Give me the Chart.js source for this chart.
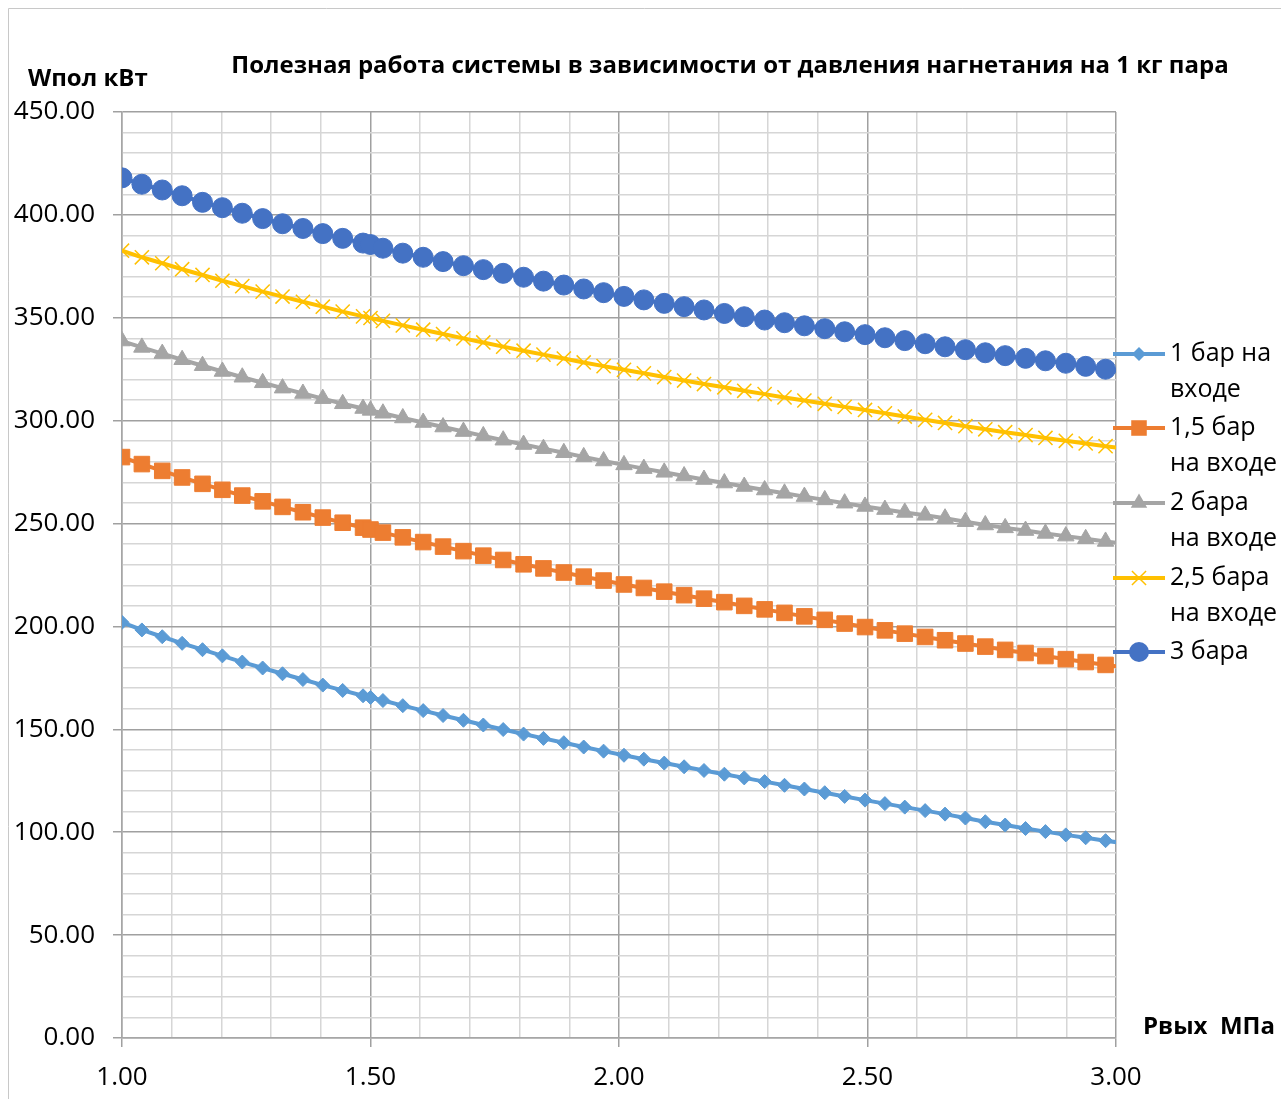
<!DOCTYPE html>
<html>
<head>
<meta charset="utf-8">
<script src="https://cdn.jsdelivr.net/npm/chart.js@4"></script>
<style>
  html, body { margin: 0; padding: 0; background: #fff; }
  #wrap { position: relative; width: 1281px; height: 1099px; }
</style>
</head>
<body>
<div id="wrap"><canvas id="c" width="1281" height="1099"></canvas></div>
<script>
const chartTitle = 'Полезная работа системы в зависимости от давления нагнетания на 1 кг пара';
const yAxisTitle = 'Wпол кВт';
const xAxisTitle = 'Рвых  МПа';

const xValues = [1.000, 1.040, 1.081, 1.121, 1.162, 1.202, 1.242, 1.283, 1.323, 1.364, 1.404, 1.444, 1.485,
  1.500,
  1.525, 1.565, 1.606, 1.646, 1.687, 1.727, 1.767, 1.808, 1.848, 1.889, 1.929, 1.969, 2.010, 2.050, 2.091,
  2.131, 2.171, 2.212, 2.252, 2.293, 2.333, 2.373, 2.414, 2.454, 2.495, 2.535, 2.575, 2.616, 2.656, 2.697,
  2.737, 2.777, 2.818, 2.858, 2.899, 2.939, 2.979, 3.020];

const seriesNames = [['1 бар на', 'входе'], ['1,5 бар', 'на входе'], ['2 бара', 'на входе'], ['2,5 бара', 'на входе'], ['3 бара']];

const bar1 = [202.0,198.3,195.0,191.8,188.7,185.7,182.7,179.8,177.0,174.2,171.5,168.9,166.3,165.5,164.0,161.5,159.1,156.7,154.4,152.1,149.9,147.7,145.6,143.5,141.4,139.4,137.4,135.5,133.6,131.8,130.0,128.2,126.4,124.6,122.8,121.0,119.2,117.4,115.6,113.9,112.2,110.5,108.8,106.9,105.1,103.5,101.8,100.3,98.7,97.3,95.9,94.5];
const bar15 = [282.3,278.9,275.6,272.4,269.3,266.4,263.6,260.8,258.1,255.5,252.9,250.4,248.0,247.1,245.6,243.3,241.0,238.8,236.6,234.4,232.3,230.2,228.2,226.2,224.2,222.3,220.4,218.7,216.9,215.2,213.5,211.8,210.0,208.3,206.6,204.9,203.2,201.4,199.7,198.1,196.5,194.9,193.3,191.7,190.2,188.6,187.1,185.6,184.1,182.7,181.3,180.0];
const bar2 = [338.7,335.6,332.6,329.6,326.7,323.9,321.1,318.4,315.8,313.2,310.7,308.2,305.9,305.0,303.6,301.3,299.1,296.9,294.7,292.6,290.5,288.4,286.4,284.4,282.4,280.4,278.5,276.7,274.9,273.1,271.4,269.7,268.0,266.3,264.7,263.1,261.5,259.9,258.3,256.8,255.4,254.0,252.6,250.9,249.3,247.9,246.6,245.2,243.9,242.6,241.3,240.0];
const bar25 = [382.6,379.4,376.5,373.6,370.8,368.0,365.4,362.7,360.3,357.8,355.4,353.0,350.7,349.9,348.5,346.3,344.2,342.1,340.0,338.0,336.0,334.0,332.1,330.2,328.3,326.5,324.7,323.0,321.2,319.5,317.8,316.2,314.5,312.9,311.3,309.8,308.2,306.7,305.2,303.6,302.0,300.4,298.9,297.3,295.8,294.4,293.0,291.6,290.2,288.9,287.6,286.3];
const bar3 = [418.0,414.9,412.1,409.3,406.1,403.5,400.8,398.2,395.7,393.4,390.9,388.6,386.3,385.6,383.8,381.4,379.4,377.3,375.3,373.4,371.6,369.7,367.8,365.9,364.0,362.2,360.4,358.7,357.0,355.4,353.8,352.1,350.5,348.9,347.6,346.1,344.7,343.2,341.8,340.3,338.9,337.4,335.9,334.5,333.0,331.6,330.3,329.1,327.9,326.4,325.0,323.8];

const seriesValues = [bar1, bar15, bar2, bar25, bar3];
const seriesColors = ['#5B9BD5', '#ED7D31', '#A5A5A5', '#FFC000', '#4472C4'];
const seriesMarkers = ['rectRot', 'rect', 'triangle', 'crossRot', 'circle'];
const markerRadius = [7, 11, 9.5, 10, 10];

const FONT = '"Open Sans", "Noto Sans", "Liberation Sans", sans-serif';

function toPoints(ys) { return xValues.map((x, i) => ({ x: x, y: ys[i] })); }

const datasets = seriesValues.map((ys, i) => ({
  label: seriesNames[i].join(' '),
  data: toPoints(ys),
  borderColor: seriesColors[i],
  backgroundColor: seriesColors[i],
  borderWidth: 4,
  pointStyle: seriesMarkers[i],
  pointRadius: markerRadius[i],
  pointHoverRadius: markerRadius[i],
  pointBackgroundColor: seriesColors[i],
  pointBorderColor: seriesColors[i],
  pointBorderWidth: seriesMarkers[i] === 'crossRot' ? 1.5 : 1,
  tension: 0,
  fill: false
}));

function drawMarker(ctx, style, r, x, y, color) {
  ctx.save();
  ctx.fillStyle = color; ctx.strokeStyle = color;
  ctx.beginPath();
  if (style === 'circle') {
    ctx.arc(x, y, r, 0, Math.PI * 2); ctx.fill();
  } else if (style === 'rect') {
    const s = Math.SQRT1_2 * r; ctx.rect(x - s, y - s, 2 * s, 2 * s); ctx.fill();
  } else if (style === 'rectRot') {
    ctx.moveTo(x - r, y); ctx.lineTo(x, y - r); ctx.lineTo(x + r, y); ctx.lineTo(x, y + r); ctx.closePath(); ctx.fill();
  } else if (style === 'triangle') {
    ctx.moveTo(x - Math.sin(Math.PI / 3) * r, y + r / 2);
    ctx.lineTo(x + Math.sin(Math.PI / 3) * r, y + r / 2);
    ctx.lineTo(x, y - r); ctx.closePath(); ctx.fill();
  } else if (style === 'crossRot') {
    const s = Math.SQRT1_2 * r; ctx.lineWidth = 1.5;
    ctx.moveTo(x - s, y - s); ctx.lineTo(x + s, y + s);
    ctx.moveTo(x + s, y - s); ctx.lineTo(x - s, y + s); ctx.stroke();
  }
  ctx.restore();
}

const decor = {
  id: 'decor',
  beforeDraw(chart) {
    const ctx = chart.ctx;
    ctx.save();
    ctx.fillStyle = '#fff';
    ctx.fillRect(0, 0, chart.width, chart.height);
    ctx.strokeStyle = '#c8c8c8'; ctx.lineWidth = 1;
    ctx.beginPath();
    ctx.moveTo(8.5, 1099); ctx.lineTo(8.5, 8.5); ctx.lineTo(1281, 8.5);
    ctx.stroke();
    ctx.restore();
  },
  afterDraw(chart) {
    const ctx = chart.ctx;
    ctx.save();
    ctx.fillStyle = '#000';
    ctx.textBaseline = 'middle';
    ctx.font = 'bold 24px ' + FONT;
    ctx.textAlign = 'center';
    ctx.fillText(chartTitle, 730, 66, 1000);
    ctx.textAlign = 'left';
    ctx.fillText(yAxisTitle, 28, 79);
    ctx.fillText(xAxisTitle, 1143, 1027);
    // legend
    const rows = [354, 428, 503, 578, 652];
    ctx.font = '25px ' + FONT;
    for (let i = 0; i < seriesNames.length; i++) {
      const y = rows[i];
      ctx.save();
      ctx.strokeStyle = seriesColors[i]; ctx.lineWidth = 4;
      ctx.beginPath(); ctx.moveTo(1113, y); ctx.lineTo(1165, y); ctx.stroke();
      ctx.restore();
      drawMarker(ctx, seriesMarkers[i], markerRadius[i], 1139, y, seriesColors[i]);
      ctx.fillStyle = '#000';
      seriesNames[i].forEach((t, k) => ctx.fillText(t, 1170, y + k * 36));
    }
    ctx.restore();
  }
};

const isMajorX = v => Math.abs(v * 2 - Math.round(v * 2)) < 1e-6;
const isMajorY = v => Math.abs(v / 50 - Math.round(v / 50)) < 1e-6;

new Chart(document.getElementById('c'), {
  type: 'line',
  data: { datasets },
  options: {
    responsive: false,
    animation: false,
    devicePixelRatio: 1,
    layout: { padding: { top: 112, right: 165, left: 0, bottom: 0 } },
    plugins: { legend: { display: false }, title: { display: false }, tooltip: { enabled: false } },
    scales: {
      x: {
        type: 'linear', min: 1, max: 3,
        afterFit(s) { s.height = 61; },
        border: { display: true, color: '#a6a6a6', width: 1.5 },
        grid: {
          color: c => isMajorX(c.tick.value) ? '#a0a0a0' : '#d6d6d6',
          lineWidth: 1.5,
          tickLength: 9,
          tickColor: c => isMajorX(c.tick.value) ? '#a0a0a0' : 'rgba(0,0,0,0)'
        },
        ticks: {
          stepSize: 0.1, autoSkip: false, maxRotation: 0, padding: 15,
          color: '#000', font: { size: 26, family: FONT },
          callback: v => isMajorX(v) ? Number(v).toFixed(2) : ''
        }
      },
      y: {
        type: 'linear', min: 0, max: 450,
        afterFit(s) { s.width = 122; },
        border: { display: true, color: '#a6a6a6', width: 1.5 },
        grid: {
          color: c => isMajorY(c.tick.value) ? '#a0a0a0' : '#d6d6d6',
          lineWidth: 1.5,
          tickLength: 9,
          tickColor: c => isMajorY(c.tick.value) ? '#a0a0a0' : 'rgba(0,0,0,0)'
        },
        ticks: {
          stepSize: 10, autoSkip: false, padding: 18,
          color: '#000', font: { size: 26, family: FONT },
          callback: v => isMajorY(v) ? Number(v).toFixed(2) : ''
        }
      }
    }
  },
  plugins: [decor]
});
</script>
</body>
</html>
